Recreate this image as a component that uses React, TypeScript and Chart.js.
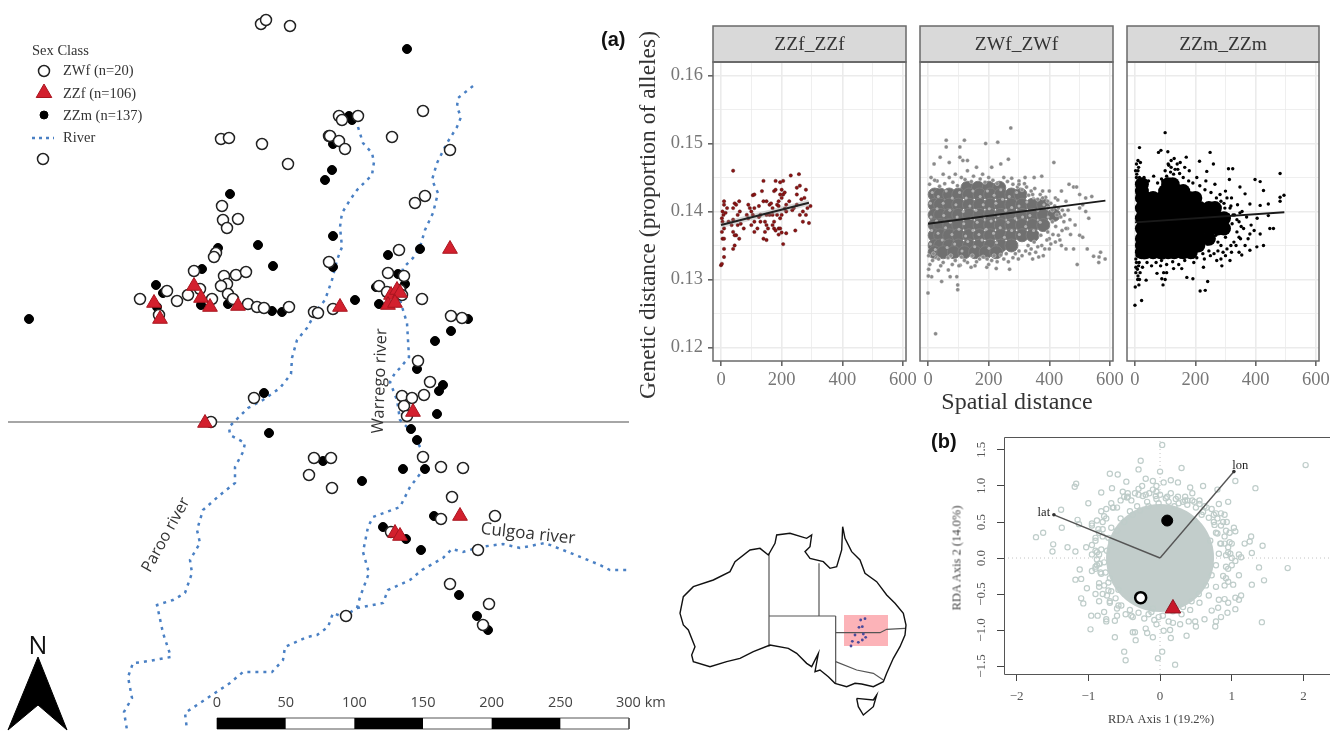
import React, { useEffect, useRef } from "react";
import { Chart, registerables } from "chart.js";
Chart.register(...registerables);

const SERIF = '"Liberation Serif"';
const SANS = '"Open Sans"';

// ---- map (sample positions in map units, flat x,y)
const mapZWf = [43,159,261,24,266,20,290,26,221,139,229,138,262,144,288,164,329,136,222,206,223,220,238,219,227,228,216,253,214,257,194,271,224,276,236,275,246,272,227,284,221,286,200,289,167,291,228,294,212,299,188,295,140,299,177,301,233,299,248,304,257,307,264,308,289,307,314,312,318,313,159,315,339,116,342,120,358,116,423,111,330,136,339,141,345,149,392,137,450,150,425,196,415,203,399,250,388,273,404,276,379,286,422,299,333,309,451,316,462,318,418,361,400,290,402,295,387,292,329,262,254,398,211,422,314,458,331,458,309,475,332,488,430,382,402,396,412,398,424,395,404,406,407,416,423,457,441,467,463,468,452,497,441,519,495,516,478,550,391,532,450,584,489,604,483,625,346,616];
const mapZZf = [194,286,154,303,201,298,210,307,238,306,160,319,450,249,340,307,391,295,397,290,400,293,388,305,395,303,205,423,413,412,460,516,395,533,400,536];
const mapZZm = [230,194,258,245,273,266,202,269,218,248,156,285,163,293,228,304,201,305,272,311,282,312,29,319,157,307,407,49,349,116,352,120,333,144,332,170,325,180,333,236,388,255,420,249,333,267,330,263,398,274,405,284,376,287,355,300,379,304,468,319,451,331,435,341,417,369,264,393,269,433,323,461,443,385,439,391,437,414,411,429,417,440,403,469,425,469,362,481,434,516,383,527,406,539,421,550,459,595,477,616,488,630];
const riverParoo = [358,127,363,143,372,153,374,162,372,175,357,190,350,200,342,213,340,227,342,247,337,260,332,280,325,300,317,310,307,328,297,340,292,358,291,374,280,388,263,400,248,408,235,421,229,427,230,435,245,443,243,452,235,467,235,483,220,495,203,510,197,530,200,543,190,560,192,573,185,593,173,600,157,605,163,633,171,657,143,662,133,663,128,677,132,698,124,712,127,730];
const riverWarrego = [473,86,458,98,457,107,461,117,457,127,447,143,437,163,432,180,438,193,433,213,425,230,420,247,413,258,403,268,400,285,400,300,403,310,407,323,408,340,409,357,400,368,395,373,390,382,397,400,400,420,413,433,423,453,423,470,410,487,400,507,373,517,368,527,363,552,369,573,360,597,357,608,343,617,333,613,328,627,317,635,307,637,285,647,283,660,272,672,243,672,230,683,215,693,197,705,185,713,187,730];
const riverCulgoa = [357,608,383,603,388,590,410,580,422,570,443,558,452,549,463,552,480,547,503,544,520,548,545,543,563,550,583,558,600,565,610,570,628,570];
const latitudeLine = [8,422,629,422];
const northArrow = [38,657,67,730,38,705,8,730,38,657];
const scaleKm = [0,50,100,150,200,250,300];
const scaleBlack = [[0,50],[100,150],[200,250]];

// ---- inset map (outline units)
const coast = [548,50,555,85,575,125,600,150,615,190,650,215,680,255,705,280,730,310,738,345,735,375,720,410,700,445,680,490,670,515,640,530,605,522,585,520,560,530,525,520,505,500,480,480,465,485,475,430,455,470,440,460,410,430,385,415,330,405,280,425,240,445,200,455,150,470,100,455,95,435,105,410,85,360,70,345,60,310,70,260,100,230,160,210,210,185,225,155,270,120,300,115,325,135,345,100,350,75,390,70,440,85,455,75,450,110,435,125,450,145,490,155,510,175,530,170,545,120,548,50];
const tasmania = [590,565,640,570,650,555,640,590,610,615,595,590,590,565];
const borders = [[327,130,327,410],[327,318,527,318],[477,160,477,318],[527,318,527,520],[527,368,660,368,680,358,735,355],[527,455,590,480,640,490,670,510]];
const studyBox = [552,315,684,315,684,408,552,408,552,315];
const insetRiver = [602,330,615,326,597,352,607,350,585,375,610,372,617,382,607,390,595,397,577,394,573,408];

// ---- facets: km, genetic distance x 1e-4
const zzfPts = [0,1321,3,1323,10,1333,10,1345,5,1360,10,1360,3,1370,10,1375,5,1385,3,1390,8,1395,5,1400,10,1410,10,1415,15,1398,20,1405,25,1385,35,1380,40,1345,45,1350,50,1365,40,1370,45,1365,60,1360,55,1380,40,1388,40,1405,45,1412,50,1410,60,1415,55,1395,40,1460,62,1400,95,1405,100,1400,105,1395,110,1405,100,1380,110,1370,110,1385,120,1375,130,1385,105,1424,110,1425,125,1408,135,1430,140,1445,140,1415,150,1415,160,1410,130,1395,150,1395,170,1405,145,1385,150,1380,140,1360,150,1358,155,1375,160,1395,170,1380,175,1375,180,1372,190,1375,195,1375,175,1385,185,1395,195,1390,185,1410,190,1415,200,1395,205,1352,200,1369,190,1366,215,1368,175,1430,180,1432,180,1445,195,1443,205,1445,195,1425,200,1420,205,1425,190,1408,215,1410,225,1415,235,1402,245,1372,240,1405,250,1410,230,1453,257,1455,250,1435,260,1438,250,1425,265,1418,275,1420,280,1432,285,1405,260,1395,270,1385,270,1400,280,1395,290,1383,295,1408,210,1404,215,1400,165,1412,170,1395,200,1432,210,1428,145,1370,125,1392,85,1395,90,1410,90,1390,65,1382,75,1375];
const zzfFit = [0,1380,290,1413];
const zwfPts = [25,1220,0,1280,98,1292,98,1285,45,1297,12,1304,1,1305,73,1304,95,1304,2,1315,34,1313,67,1314,106,1321,155,1320,194,1318,225,1316,269,1315,60,1505,60,1495,120,1505,190,1500,230,1502,273,1523,105,1495,105,1480,115,1475,130,1475,40,1480,20,1470,70,1472,160,1465,265,1477,240,1470,415,1472,210,1465,10,1450,50,1455,90,1455,130,1460,180,1455,300,1445,320,1450,350,1450,375,1452,465,1440,480,1436,490,1436,500,1425,520,1420,540,1422,420,1420,400,1430,440,1430,455,1415,510,1410,500,1405,520,1400,530,1390,500,1365,510,1362,525,1345,440,1350,455,1345,480,1345,345,1330,365,1333,380,1335,400,1345,420,1355,460,1375,485,1380,546,1334,564,1333,584,1330,569,1340,563,1325,492,1322,30,1445,70,1450,110,1450,150,1452,200,1450,250,1450,280,1440,310,1432,340,1430,370,1425,395,1415,430,1405,450,1395,455,1375,430,1365,400,1360,375,1350,340,1345,310,1335,280,1332,250,1330,210,1328,170,1330,130,1325,90,1328,50,1325,15,1328,
  5,1440,22,1446,38,1437,55,1441,82,1443,97,1438,122,1447,143,1444,172,1448,188,1443,214,1446,228,1441,262,1444,276,1449,295,1436,318,1441,332,1424,352,1434,362,1418,378,1430,388,1421,405,1412,418,1408,428,1417,443,1402,438,1392,462,1402,448,1385,468,1388,442,1372,470,1366,421,1378,435,1358,412,1366,405,1352,392,1358,385,1345,362,1348,355,1340,335,1338,322,1342,298,1330,288,1338,265,1326,240,1336,228,1326,200,1322,182,1333,160,1326,142,1318,120,1328,102,1320,80,1322,66,1332,42,1320,28,1332,6,1322,2,1335,18,1338,35,1330,75,1335,110,1333,146,1335,195,1330,218,1335,258,1338,300,1342,330,1350,350,1355,372,1365,395,1370,410,1385,425,1395,410,1402,395,1405,378,1420,345,1425,325,1436,300,1440];
const zwfCore = [130,1435,165,1435,200,1435,235,1435,22,1425,40,1425,70,1425,100,1425,135,1425,170,1425,205,1425,240,1425,275,1425,305,1425,22,1410,40,1410,70,1410,100,1410,135,1410,170,1410,205,1410,240,1410,275,1410,310,1410,345,1410,380,1410,22,1395,40,1395,70,1395,100,1395,135,1395,170,1395,205,1395,240,1395,275,1395,310,1395,345,1395,380,1395,415,1395,22,1380,40,1380,70,1380,100,1380,135,1380,170,1380,205,1380,240,1380,275,1380,310,1380,345,1380,380,1380,22,1365,40,1365,70,1365,100,1365,135,1365,170,1365,205,1365,240,1365,275,1365,310,1365,345,1365,22,1350,40,1350,70,1350,100,1350,135,1350,170,1350,205,1350,240,1350,275,1350,22,1340,50,1340,85,1340,120,1340,155,1340,190,1340,225,1340];
const zwfSpeck = [8,1352,24,1344,47,1358,63,1347,88,1352,112,1342,131,1356,154,1348,178,1358,201,1346,226,1354,252,1362,276,1372,301,1366,322,1378,348,1372,370,1384,396,1392,12,1372,33,1368,58,1376,79,1366,102,1374,124,1364,148,1372,168,1366,192,1374,216,1368,238,1376,264,1384,288,1390,312,1392,336,1394,362,1402,382,1410,10,1392,28,1386,52,1394,74,1384,96,1392,118,1382,142,1390,162,1384,186,1392,208,1386,232,1394,256,1402,276,1406,300,1408,326,1414,348,1420,8,1412,30,1404,50,1412,72,1402,92,1410,116,1400,138,1408,158,1402,182,1410,202,1404,224,1412,246,1418,268,1422,292,1428,14,1428,34,1422,60,1430,80,1420,104,1428,126,1420,148,1430,172,1422,196,1430,218,1424,240,1432];
const zwfFit = [0,1382,585,1416];
const zzmPts = [100,1516,15,1494,78,1487,86,1490,109,1488,249,1487,170,1480,214,1474,260,1470,310,1463,324,1463,238,1459,481,1456,398,1447,415,1444,313,1447,426,1431,494,1424,481,1421,481,1415,442,1411,415,1409,381,1411,348,1436,365,1426,442,1394,459,1375,447,1375,415,1367,426,1350,404,1348,381,1343,381,1367,354,1336,315,1328,288,1320,271,1328,192,1301,172,1303,241,1297,233,1284,216,1283,93,1292,89,1301,37,1299,1,1289,13,1292,0,1262,22,1269,73,1309,128,1316,155,1316,194,1333,227,1318,5,1470,10,1460,12,1465,18,1472,15,1450,5,1450,8,1440,3,1310,8,1315,12,1320,5,1325,10,1305,15,1300,3,1330,95,1310,85,1320,100,1300,105,1310,110,1470,120,1475,130,1478,140,1470,150,1472,165,1465,120,1465,100,1460,300,1430,320,1420,340,1410,355,1400,345,1385,360,1375,350,1360,335,1350,320,1340,300,1335,285,1330,330,1395,315,1405,370,1392,385,1380,375,1360,395,1372,405,1390,365,1350,345,1340,250,1335,230,1330,195,1325,265,1440,235,1445,205,1450,180,1460,
  2,1460,6,1455,14,1445,10,1475,7,1335,14,1325,3,1318,9,1300,17,1310,30,1450,45,1445,62,1452,75,1442,88,1448,105,1452,118,1458,133,1462,148,1456,160,1450,178,1445,192,1442,215,1438,232,1432,252,1428,270,1420,282,1425,295,1412,305,1420,318,1408,325,1395,338,1388,348,1398,352,1378,338,1370,345,1362,328,1355,318,1350,305,1345,292,1340,275,1342,262,1338,245,1342,225,1338,205,1332,180,1335,165,1328,145,1322,125,1326,105,1322,88,1328,70,1325,55,1320,40,1325,25,1318,30,1332,60,1333,95,1332,150,1333,285,1350,300,1362,310,1372,322,1382,310,1395,298,1405,285,1415,275,1355,290,1368,240,1352,268,1365,112,1468,128,1455,142,1462,92,1445,28,1440];
const zzmCore = [23,1440,110,1440,125,1440,23,1430,100,1430,120,1430,140,1430,160,1430,23,1420,35,1420,60,1420,90,1420,120,1420,150,1420,180,1420,200,1420,23,1405,35,1405,65,1405,95,1405,125,1405,155,1405,185,1405,215,1405,245,1405,265,1405,23,1390,35,1390,65,1390,95,1390,125,1390,155,1390,185,1390,215,1390,245,1390,275,1390,295,1390,23,1375,35,1375,65,1375,95,1375,125,1375,155,1375,185,1375,215,1375,245,1375,275,1375,295,1375,23,1360,35,1360,65,1360,95,1360,125,1360,155,1360,185,1360,215,1360,245,1360,23,1350,35,1350,60,1350,90,1350,120,1350,150,1350,180,1350,210,1350,23,1340,35,1340,60,1340,85,1340,110,1340,130,1340,160,1340,185,1340];
const zzmFit = [0,1384,495,1399];

// ---- RDA (axis values x 100)
const rdaOuter = [203,129,178,-14,145,-31,143,17,142,-89,138,-13,128,-37,128,7,127,30,125,23,118,20,133,97,105,107,95,78,30,125,3,157,0,120,-27,135,-30,123,-59,116,-70,117,-47,106,-67,97,-82,91,-117,103,-119,99,-100,76,-138,67,-137,42,-163,35,-173,29,-149,19,-150,9,-129,15,-118,9,-103,15,-115,53,-113,47,-95,45,-88,52,-112,-16,-118,-30,-110,-29,-102,-42,-95,-18,-110,-56,-107,-63,-97,-99,-96,-80,-87,-80,-75,-88,-63,-87,-63,-110,-40,-80,-38,-103,-35,-103,-34,-114,-20,-98,-18,-104,-10,-110,-50,-130,-48,-142,-3,-139,3,-130,21,-148,15,-111,37,-108,14,-100,-5,-92,5,-101,40,-88,49,-88,50,-95,62,-85,77,-95,78,-88,81,-69,72,-73,95,-62,105,-71,105,-55,113,-52,110,-58,102,-37,95,-33,90,-57,82,-58,110,-24,100,-10,105,-4,113,1,110,5,98,6,92,4,85,20,90,20,100,20,105,37,103,42,97,35,93,50,90,60,85,62,80,55,75,50,82,75,80,95,60,100,55,80,45,90,42,98,35,80,25,105,15,108,5,105,-5,100,-10,107,-20,110,-25,100,-35,90,-45,85,-55,80,-65,70,-75,68,-80,50,-85,35,-90,28,-95,5,-90,-15,-85,-40,-80,-50,-85,-60,-75,-85,-60,-80,-78,-75,-70,-60,-90,-50,-85,-35,-83,-20,-88,-10,-88,-2,-85,5,-90,10,-80,30,-80,40,-75,55,-60,70,-50,85,-45,90,-40,80,-30,88,-20,88,-15,90,-10,95,0,88,10,85,15,90,25,85,35,85,45,80,55,75,65,70,75,60,85,45,90,30,95,15,100,0,95,-15,92,-28,90,-38,85,
  -82,30,-78,42,-72,55,-62,68,-52,78,-40,88,-25,92,-12,95,8,97,22,92,38,88,50,78,62,72,68,62,72,48,78,38,80,22,82,8,83,-5,82,-18,78,-32,72,-42,65,-55,55,-68,42,-72,28,-82,12,-85,-8,-82,-22,-78,-38,-74,-52,-70,-62,-60,-70,-48,-78,-38,-82,-22,-84,-8,-86,12,-88,28,-92,18,-90,-12,-75,-58,-66,-72,-45,-90,-12,-95,18,-95,48,-82,65,-68,76,-52,92,-30,96,-5,92,32,78,58,60,78,35,94,
  -76,18,-74,32,-68,44,-60,54,-50,64,-38,72,-24,78,-10,82,6,84,20,80,34,76,46,68,56,60,64,50,70,38,74,26,76,12,78,-2,76,-16,72,-28,66,-38,60,-50,50,-60,38,-68,24,-74,10,-78,-6,-76,-20,-72,-34,-68,-46,-62,-56,-54,-66,-42,-72,-30,-76,-16,-78,-2,-82,4,-80,-10,-70,-38,-58,-58,-44,-70,-28,-84,-8,-88,8,-90,24,-86,40,-78,58,-66,70,-46,84,-24,86,-6,86,20,72,48,52,70,24,88];
const rdaCore = [0,0];
const rdaLat = [0,0,-148,60];
const rdaLon = [0,0,103,120];
const centroidZZm = [10,52];
const centroidZWf = [-27,-55];
const centroidZZf = [18,-70];

const pairs = (a: number[], sx = 1, sy = 1) => {
  const out: { x: number; y: number }[] = [];
  for (let i = 0; i + 1 < a.length; i += 2) out.push({ x: a[i] * sx, y: a[i + 1] * sy });
  return out;
};

type Txt = { t: string; x: number; y: number; f: string; c: string; r?: number; a?: CanvasTextAlign };
const textPlugin = (items: Txt[]) => ({
  id: "texts",
  afterDraw(chart: any) {
    const c = chart.ctx;
    for (const i of items) {
      c.save();
      c.translate(i.x, i.y);
      if (i.r) c.rotate((i.r * Math.PI) / 180);
      c.font = i.f;
      c.fillStyle = i.c;
      c.textAlign = i.a || "center";
      c.textBaseline = "middle";
      c.fillText(i.t, 0, 0);
      c.restore();
    }
  },
});

const hiddenAxes = (xmin: number, xmax: number, ymin: number, ymax: number) => ({
  x: { type: "linear", display: false, min: xmin, max: xmax },
  y: { type: "linear", display: false, min: ymin, max: ymax, reverse: true },
});
const baseOpts = {
  responsive: false,
  animation: false,
  parsing: false,
  layout: { padding: 0, autoPadding: false },
  plugins: { legend: { display: false }, tooltip: { enabled: false }, title: { display: false } },
};
const pt = (data: any[], style: any, r: number, bg: string, bc: string, bw = 1) => ({
  type: "scatter", data, pointStyle: style, pointRadius: r, pointBackgroundColor: bg,
  pointBorderColor: bc, pointBorderWidth: bw, showLine: false,
});
const ln = (data: any[], color: string, w: number, extra: any = {}) => ({
  type: "scatter", data, showLine: true, borderColor: color, borderWidth: w, pointRadius: 0, tension: 0, ...extra,
});

const kmToMap = (km: number) => 217 + (km * 412) / 300;
const RIVER = "#4a80c4";
const mapTexts: Txt[] = [
  { t: "Sex Class", x: 32, y: 51, f: `14.5px ${SERIF}`, c: "#333", a: "left" },
  { t: "ZWf (n=20)", x: 63, y: 71, f: `14.5px ${SERIF}`, c: "#333", a: "left" },
  { t: "ZZf (n=106)", x: 63, y: 94, f: `14.5px ${SERIF}`, c: "#333", a: "left" },
  { t: "ZZm (n=137)", x: 63, y: 116, f: `14.5px ${SERIF}`, c: "#333", a: "left" },
  { t: "River", x: 63, y: 138, f: `14.5px ${SERIF}`, c: "#333", a: "left" },
  { t: "Warrego river", x: 380, y: 381, f: `16.5px ${SANS}`, c: "#333", r: -88 },
  { t: "Paroo river", x: 166, y: 535, f: `16px ${SANS}`, c: "#333", r: -61 },
  { t: "Culgoa river", x: 528, y: 534, f: `17px ${SANS}`, c: "#333", r: 6 },
  { t: "N", x: 38, y: 647, f: `25px ${SANS}`, c: "#111" },
  ...scaleKm.map((k) => ({
    t: k === 300 ? "300 km" : String(k), x: k === 300 ? 616 : kmToMap(k), y: 703,
    f: `14.5px ${SANS}`, c: "#444", a: (k === 300 ? "left" : "center") as CanvasTextAlign,
  })),
  { t: "(a)", x: 601, y: 40, f: `bold 20px "Liberation Sans"`, c: "#111", a: "left" },
  { t: "(b)", x: 931, y: 442, f: `bold 20px "Liberation Sans"`, c: "#111", a: "left" },
  { t: "Genetic distance (proportion of alleles)", x: 649, y: 215, f: `23.5px ${SERIF}`, c: "#333", r: -90 },
  { t: "Spatial distance", x: 1017, y: 403, f: `24px ${SERIF}`, c: "#333" },
];

function makeMap(cv: HTMLCanvasElement) {
  const datasets: any[] = [
    pt([{ x: 44, y: 93 }], "triangle", 9, "#d3202e", "#a8151f"),
    pt([{ x: 44, y: 71 }], "circle", 5.5, "#fff", "#222", 1.5),
    pt([{ x: 44, y: 115 }], "circle", 4, "#000", "#000"),
    pt(pairs(mapZZf), "triangle", 8.5, "#d3202e", "#a8151f"),
    pt(pairs(mapZWf), "circle", 5.5, "#fff", "#222", 1.5),
    pt(pairs(mapZZm), "circle", 4.5, "#000", "#000"),
    ln(pairs([32, 138, 54, 138]), RIVER, 2.5, { borderDash: [3, 4] }),
    ln(pairs(riverParoo), RIVER, 2.5, { borderDash: [3, 5] }),
    ln(pairs(riverWarrego), RIVER, 2.5, { borderDash: [3, 5] }),
    ln(pairs(riverCulgoa), RIVER, 2.5, { borderDash: [3, 5] }),
    ln(pairs(latitudeLine), "#888", 1.5),
    ln(pairs(northArrow), "#000", 1, { fill: "shape", backgroundColor: "#000" }),
    ...scaleBlack.map(([a, b]) => ln([{ x: kmToMap(a), y: 723.5 }, { x: kmToMap(b), y: 723.5 }], "#000", 11, { borderCapStyle: "butt" })),
    ln(pairs([kmToMap(0), 718, kmToMap(300), 718, kmToMap(300), 729, kmToMap(0), 729, kmToMap(0), 718]), "#555", 1),
  ];
  return new Chart(cv, {
    data: { datasets },
    options: { ...baseOpts, scales: hiddenAxes(0, 1330, 0, 732) } as any,
    plugins: [textPlugin(mapTexts)],
  } as any);
}

function makeInset(cv: HTMLCanvasElement) {
  const datasets: any[] = [
    pt(pairs(insetRiver), "circle", 1.4, "#4a4a9a", "#4a4a9a", 0),
    ln(pairs(coast), "#111", 1.4),
    ln(pairs(tasmania), "#111", 1.4),
    ...borders.map((b) => ln(pairs(b), "#555", 1.2)),
    ln(pairs(studyBox), "rgba(0,0,0,0)", 0, { fill: "shape", backgroundColor: "#fcb3b8" }),
  ];
  return new Chart(cv, {
    data: { datasets },
    options: { ...baseOpts, scales: hiddenAxes(0, 780, 0, 666) } as any,
  } as any);
}

const STRIP_TOP = 26, PANEL_TOP = 62, PANEL_BOT = 361, AXIS_W = 50, PAD_R = 20, FH = 400;
function facetPlugin(label: string) {
  return {
    id: "facet",
    afterDraw(chart: any) {
      const c = chart.ctx, a = chart.chartArea;
      c.save();
      c.strokeStyle = "#6a6a6a";
      c.lineWidth = 1.5;
      c.strokeRect(a.left, a.top, a.right - a.left, a.bottom - a.top);
      c.fillStyle = "#d9d9d9";
      c.fillRect(a.left, STRIP_TOP, a.right - a.left, PANEL_TOP - STRIP_TOP);
      c.strokeRect(a.left, STRIP_TOP, a.right - a.left, PANEL_TOP - STRIP_TOP);
      c.lineWidth = 2;
      c.beginPath(); c.moveTo(a.left, PANEL_TOP); c.lineTo(a.right, PANEL_TOP); c.stroke();
      c.fillStyle = "#333";
      c.font = `19.5px ${SERIF}`;
      c.textAlign = "center";
      c.textBaseline = "middle";
      c.fillText(label, (a.left + a.right) / 2, 45);
      c.restore();
    },
  };
}
function makeFacet(cv: HTMLCanvasElement, label: string, showY: boolean, datasets: any[]) {
  return new Chart(cv, {
    data: { datasets },
    options: {
      ...baseOpts,
      layout: { padding: { top: PANEL_TOP, right: PAD_R, left: 0, bottom: 0 }, autoPadding: false },
      scales: {
        x: {
          type: "linear", min: -26.4, max: 610,
          afterFit: (s: any) => { s.height = FH - PANEL_BOT; },
          border: { display: false },
          grid: {
            color: "#ebebeb",
            lineWidth: (k: any) => (k.tick && k.tick.value % 200 === 0 ? 1.6 : 0.8),
            tickLength: 5,
            tickColor: (k: any) => (k.tick && k.tick.value % 200 === 0 ? "#666" : "rgba(0,0,0,0)"),
          },
          ticks: {
            stepSize: 100, includeBounds: false, autoSkip: false, maxRotation: 0, padding: 3, color: "#777",
            font: { family: "Liberation Serif", size: 18.5 },
            callback: (v: number) => (v % 200 === 0 ? String(v) : ""),
          },
        },
        y: {
          type: "linear", min: 0.118, max: 0.162,
          afterFit: (s: any) => { s.width = AXIS_W; },
          border: { display: false },
          grid: {
            color: "#ebebeb",
            lineWidth: (k: any) => (k.tick && Math.round(k.tick.value * 1000) % 10 === 0 ? 1.6 : 0.8),
            tickLength: 5,
            tickColor: (k: any) => (showY && k.tick && Math.round(k.tick.value * 1000) % 10 === 0 ? "#666" : "rgba(0,0,0,0)"),
          },
          ticks: {
            stepSize: 0.005, includeBounds: false, autoSkip: false, padding: 5, color: "#777",
            font: { family: "Liberation Serif", size: 18.5 },
            callback: (v: number) => (showY && Math.round(v * 1000) % 10 === 0 ? v.toFixed(2) : ""),
          },
        },
      },
    } as any,
    plugins: [facetPlugin(label)],
  } as any);
}

function makeRda(cv: HTMLCanvasElement) {
  const datasets: any[] = [
    pt([{ x: centroidZZf[0] / 100, y: centroidZZf[1] / 100 }], "triangle", 9, "#c8182a", "#8f1420", 1),
    pt([{ x: centroidZWf[0] / 100, y: centroidZWf[1] / 100 }], "circle", 5.5, "#fff", "#000", 2.5),
    pt([{ x: centroidZZm[0] / 100, y: centroidZZm[1] / 100 }], "circle", 5.5, "#000", "#000", 1),
    ln(pairs(rdaLat, 0.01, 0.01), "#555", 1.4, { pointRadius: [0, 1.8], pointBackgroundColor: "#333", pointBorderWidth: 0 }),
    ln(pairs(rdaLon, 0.01, 0.01), "#555", 1.4, { pointRadius: [0, 1.8], pointBackgroundColor: "#333", pointBorderWidth: 0 }),
    pt(pairs(rdaOuter, 0.01, 0.01), "circle", 2.6, "rgba(255,255,255,0)", "#bfcdca", 1.2),
    pt(pairs(rdaCore, 0.01, 0.01), "circle", 54, "#c2cdcb", "#c2cdcb", 0),
    ln(pairs([-2.176, 0, 2.37, 0]), "#c4c4c4", 1, { borderDash: [1, 3] }),
    ln(pairs([0, -1.61, 0, 1.68]), "#c4c4c4", 1, { borderDash: [1, 3] }),
  ];
  const rdaPlugin = {
    id: "rdaFrame",
    afterDraw(chart: any) {
      const c = chart.ctx, a = chart.chartArea, ys = chart.scales.y, xs = chart.scales.x;
      c.save();
      c.strokeStyle = "#555";
      c.lineWidth = 1;
      c.beginPath();
      c.moveTo(a.right, a.top + 0.5); c.lineTo(a.left + 0.5, a.top + 0.5);
      c.lineTo(a.left + 0.5, a.bottom + 0.5); c.lineTo(a.right, a.bottom + 0.5);
      c.stroke();
      c.fillStyle = "#555";
      c.font = `13px ${SERIF}`;
      c.textAlign = "center";
      c.textBaseline = "middle";
      for (const v of [-1.5, -1, -0.5, 0, 0.5, 1, 1.5]) {
        c.save();
        c.translate(22, ys.getPixelForValue(v));
        c.rotate(-Math.PI / 2);
        c.fillText((v < 0 ? "−" : "") + Math.abs(v).toFixed(1), 0, 0);
        c.restore();
      }
      c.fillStyle = "#222";
      c.font = `12.5px ${SERIF}`;
      c.fillText("lat", xs.getPixelForValue(-1.62), ys.getPixelForValue(0.63));
      c.fillText("lon", xs.getPixelForValue(1.12), ys.getPixelForValue(1.28));
      c.fillStyle = "#444";
      c.fillText("RDA Axis 1 (19.2%)", 201, 295);
      c.restore();
    },
  };
  return new Chart(cv, {
    data: { datasets },
    options: {
      ...baseOpts,
      layout: { padding: { top: 12, left: 0, right: 0, bottom: 0 }, autoPadding: false },
      scales: {
        x: {
          type: "linear", min: -2.176, max: 2.37,
          afterFit: (s: any) => { s.height = 58; },
          border: { display: false },
          grid: { drawOnChartArea: false, tickLength: 7, tickColor: "#444" },
          ticks: {
            stepSize: 1, includeBounds: false, autoSkip: false, maxRotation: 0, padding: 8, color: "#555",
            font: { family: "Liberation Serif", size: 13 },
            callback: (v: number) => (v < 0 ? "−" : "") + Math.abs(v),
          },
        },
        y: {
          type: "linear", min: -1.61, max: 1.68,
          afterFit: (s: any) => { s.width = 44; },
          border: { display: false },
          grid: { drawOnChartArea: false, tickLength: 7, tickColor: "#444" },
          ticks: { stepSize: 0.5, includeBounds: false, autoSkip: false, display: false },
        },
      },
    } as any,
    plugins: [rdaPlugin],
  } as any);
}

const canvasStyle = (l: number, t: number): React.CSSProperties => ({ position: "absolute", left: l, top: t });

export default function App() {
  const mapRef = useRef<HTMLCanvasElement>(null);
  const insetRef = useRef<HTMLCanvasElement>(null);
  const f1 = useRef<HTMLCanvasElement>(null);
  const f2 = useRef<HTMLCanvasElement>(null);
  const f3 = useRef<HTMLCanvasElement>(null);
  const rda = useRef<HTMLCanvasElement>(null);
  useEffect(() => {
    const g = 0.0001;
    const charts = [
      makeInset(insetRef.current!),
      makeFacet(f1.current!, "ZZf_ZZf", true, [
        ln(pairs(zzfFit, 1, g), "#222", 2),
        ln(pairs(zzfFit, 1, g), "rgba(150,150,150,0.35)", 6),
        pt(pairs(zzfPts, 1, g), "circle", 1.7, "#8c1414", "#4a1010", 0.4),
      ]),
      makeFacet(f2.current!, "ZWf_ZWf", false, [
        ln(pairs(zwfFit, 1, g), "#1a1a1a", 2),
        pt(pairs(zwfSpeck, 1, g), "circle", 1.5, "#b2b2b2", "#b2b2b2", 0),
        pt(pairs(zwfPts, 1, g), "circle", 2, "#8a8a8a", "rgba(255,255,255,0.6)", 0.5),
        pt(pairs(zwfCore, 1, g), "circle", 6.5, "#707070", "#7e7e7e", 1),
      ]),
      makeFacet(f3.current!, "ZZm_ZZm", false, [
        ln(pairs(zzmFit, 1, g), "#1a1a1a", 2),
        pt(pairs(zzmPts, 1, g), "circle", 1.7, "#000", "#000", 0),
        pt(pairs(zzmCore, 1, g), "circle", 7, "#000", "#000", 0),
      ]),
      makeRda(rda.current!),
      makeMap(mapRef.current!),
    ];
    return () => charts.forEach((c) => c.destroy());
  }, []);
  return (
    <div style={{ position: "fixed", left: 0, top: 0, width: 1330, height: 732, background: "#fff", overflow: "hidden" }}>
      <canvas ref={insetRef} width={260} height={222} style={canvasStyle(660, 510)} />
      <canvas ref={f1} width={193 + AXIS_W + PAD_R} height={FH} style={canvasStyle(713 - AXIS_W, 0)} />
      <canvas ref={f2} width={193 + AXIS_W + PAD_R} height={FH} style={canvasStyle(920 - AXIS_W, 0)} />
      <canvas ref={f3} width={192 + AXIS_W + PAD_R} height={FH} style={canvasStyle(1127 - AXIS_W, 0)} />
      <canvas ref={rda} width={370} height={307} style={canvasStyle(960, 425)} />
      <canvas ref={mapRef} width={1330} height={732} style={canvasStyle(0, 0)} />
      <div style={{ position: "absolute", left: 957, top: 558, transform: "translate(-50%,-50%) rotate(-90deg)", font: `12.5px ${SERIF}`, color: "#444", whiteSpace: "nowrap" }}>
        RDA Axis 2 (14.0%)
      </div>
    </div>
  );
}
